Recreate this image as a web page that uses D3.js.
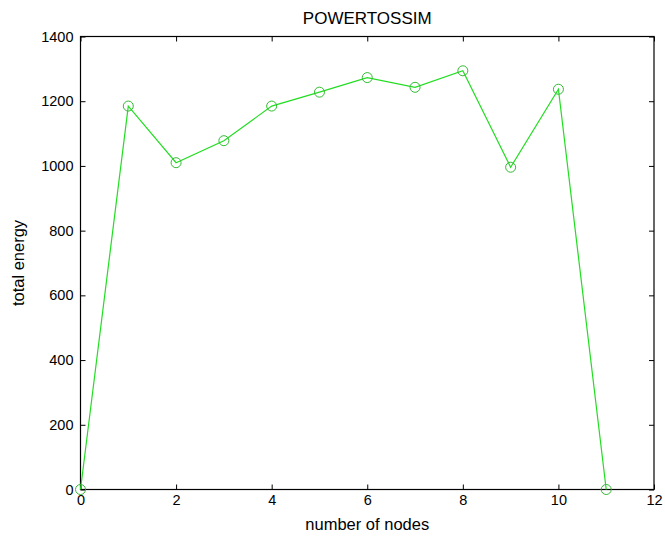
<!DOCTYPE html>
<html>
<head>
<meta charset="utf-8">
<script src="https://cdn.jsdelivr.net/npm/d3@7"></script>
<style>
  html, body { margin: 0; padding: 0; background: #fff; }
  svg { display: block; }
  text { font-family: "Liberation Sans", Arial, sans-serif; fill: #000; }
</style>
</head>
<body>
<script>
const nodes = [0, 1, 2, 3, 4, 5, 6, 7, 8, 9, 10, 11];
const energy = [0, 1185, 1010, 1078, 1185, 1228, 1273, 1243, 1294, 996, 1237, 0];
const xTicks = [0, 2, 4, 6, 8, 10, 12];
const yTicks = [0, 200, 400, 600, 800, 1000, 1200, 1400];
const titleText = "POWERTOSSIM";
const xLabel = "number of nodes";
const yLabel = "total energy";

const W = 665, H = 537;
const m = { left: 80.5, right: 665 - 654, top: 36.5, bottom: 537 - 489.5 };
const iw = W - m.left - m.right, ih = H - m.top - m.bottom;

const svg = d3.select("body").append("svg").attr("width", W).attr("height", H);
const g = svg.append("g").attr("transform", `translate(${m.left},${m.top})`);

const x = d3.scaleLinear().domain([0, 12]).range([0, iw]);
const y = d3.scaleLinear().domain([0, 1400]).range([ih, 0]);

const tl = 5;
const fs = 14.5;
const fmt = d3.format("d");

const xb = g.append("g").attr("transform", `translate(0,${ih})`)
  .call(d3.axisBottom(x).tickValues(xTicks).tickFormat(fmt).tickSizeInner(-tl).tickSizeOuter(0).tickPadding(5));
const xt = g.append("g")
  .call(d3.axisTop(x).tickValues(xTicks).tickSizeInner(-tl).tickSizeOuter(0).tickFormat(""));
const yl = g.append("g")
  .call(d3.axisLeft(y).tickValues(yTicks).tickFormat(fmt).tickSizeInner(-tl).tickSizeOuter(0).tickPadding(7));
const yr = g.append("g").attr("transform", `translate(${iw},0)`)
  .call(d3.axisRight(y).tickValues(yTicks).tickSizeInner(-tl).tickSizeOuter(0).tickFormat(""));

[xb, xt, yl, yr].forEach(a => {
  a.select(".domain").remove();
  a.selectAll(".tick line").attr("stroke", "#000").attr("stroke-width", 1);
  a.selectAll("text").attr("font-size", fs).attr("fill", "#000")
    .style("font-family", '"Liberation Sans", Arial, sans-serif');
});

g.append("rect").attr("x", 0).attr("y", 0).attr("width", iw).attr("height", ih)
  .attr("fill", "none").attr("stroke", "#000").attr("stroke-width", 1.2);

const line = d3.line().x((d, i) => x(nodes[i])).y(d => y(d));
g.append("path").datum(energy).attr("d", line)
  .attr("fill", "none").attr("stroke", "#22dd22").attr("stroke-width", 1.2);

g.selectAll("circle.pt").data(energy).enter().append("circle")
  .attr("class", "pt")
  .attr("cx", (d, i) => x(nodes[i])).attr("cy", d => y(d)).attr("r", 5)
  .attr("fill", "none").attr("stroke", "#33bb33").attr("stroke-width", 1);

svg.append("text").attr("x", m.left + iw / 2).attr("y", 24).attr("text-anchor", "middle")
  .attr("font-size", 17).text(titleText);
svg.append("text").attr("x", m.left + iw / 2).attr("y", 530).attr("text-anchor", "middle")
  .attr("font-size", 16.5).text(xLabel);
svg.append("text").attr("transform", `translate(24,${m.top + ih / 2}) rotate(-90)`)
  .attr("text-anchor", "middle").attr("font-size", 16.5).text(yLabel);
</script>
</body>
</html>
